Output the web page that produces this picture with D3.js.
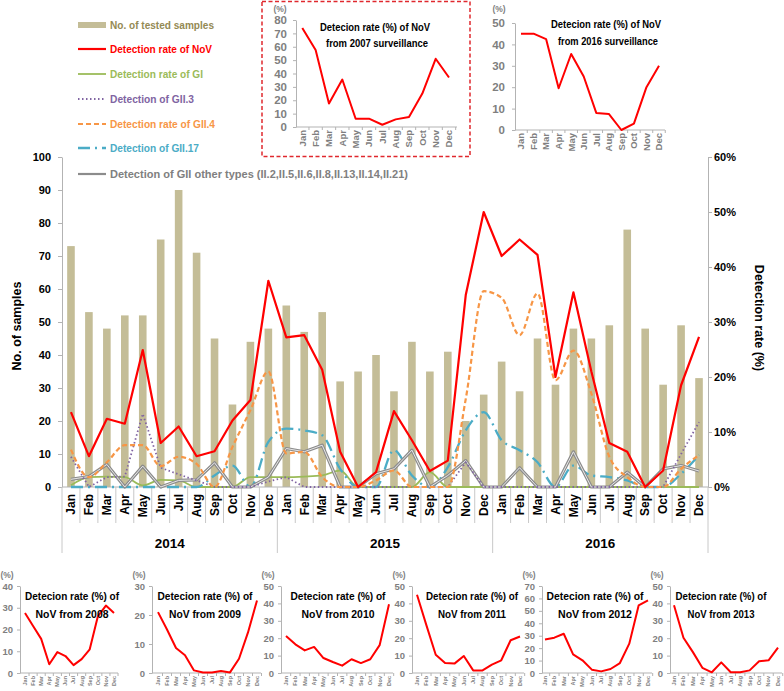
<!DOCTYPE html>
<html><head><meta charset="utf-8">
<script src="https://cdn.jsdelivr.net/npm/d3@7"></script>
<style>body{margin:0;background:#fff}svg{display:block}text{font-family:"Liberation Sans",Arial,sans-serif}</style>
</head><body><svg id="c" width="784" height="691"></svg>
<script>
// ---------- DATA ----------
const months = ["Jan","Feb","Mar","Apr","May","Jun","Jul","Aug","Sep","Oct","Nov","Dec"];
const years = ["2014","2015","2016"];
const samples = [73,53,48,52,52,75,90,71,45,25,44,48, 55,47,53,32,35,40,29,44,35,41,20,28, 38,29,45,31,48,45,49,78,48,31,49,33];
const rateNoV = [13.6,5.6,12.4,11.5,24.9,8,11,5.6,6.5,12.1,15.8,37.5, 27.2,27.6,21.3,6.4,0,2.7,13.8,8.5,2.9,4.8,34.9,50, 42,45,42.2,20,35.4,21,8,6.4,0,3,18.5,27.3];
const rateGI = [0.3,1.8,1.9,1.8,0.3,1.3,1.2,0,0,0,1.8,1.8, 1.8,1.9,2.1,3,0,0,0,0,2.7,0,0,0, 0,0,0,0,0,0,0,0,0,0,0,0];
const rateGII3 = [5.5,0,1.8,1.9,13.3,3.5,2.3,1.2,0,0,0,1.0, 1.8,0,0,0,0,0,0,0,0,0,4.5,0, 0,0,0,0,0,0,0,0,0,0,6,11.8];
const rateGII4 = [6.8,1.8,4.5,7.6,7.6,3.8,5.5,4.2,0,7.3,14,21, 6.1,6.4,1.8,0,0,1.2,3,0,0,0,16,35.6, 34.4,27.6,35.2,19.4,24.8,17,5.5,1.8,0,0,3.3,5.8];
const rateGII17 = [0,0,0,0,0,0,0,0,2.1,3.9,0,8.2, 10.6,10.3,9.4,3.3,0,0,6.7,2.1,0,3.6,10.3,13.6, 8.5,6.7,4.5,0,3.9,2.1,1.8,1.2,0,0,2.4,5.8];
const rateGIIother = [1.4,1.9,4.1,0,3.8,0,1.2,1.3,4.4,0,0,1.8, 7,6.4,7.6,0,0,2.4,3.3,6.7,0,2.1,4.8,0, 0,3.5,0,0,6.4,0,0,2.7,0,3.3,3.9,2.9];
const leftTicks = [0,10,20,30,40,50,60,70,80,90,100];
const rightTicks = [0,10,20,30,40,50,60];
const legendLabels = ["No. of tested samples","Detection rate of NoV","Detection rate of GI","Detection of GII.3","Detection rate of GII.4","Detection of GII.17","Detection of GII  other types (II.2,II.5,II.6,II.8,II.13,II.14,II.21)"];
const nov2007 = [74,57.5,17.5,35.5,6.2,6.2,1.7,5.7,7.5,25,51,37];
const nov2016 = [45,45,42.5,19.5,35.5,25,8,7.5,0,3,20,30];
const nov2008 = [27.6,21.6,15.7,4,9.6,7.8,3.6,6.4,10.9,26,31,27.6];
const nov2009 = [21,15,8.6,6.1,0.9,0.2,0.2,0.7,0.2,4.9,14,25];
const nov2010 = [21.3,16.5,13,15,8.6,6.3,4.2,7.9,5.7,7.9,16,39.5];
const nov2011 = [45,27.5,10.5,5.7,5.4,9.8,1.5,1.5,4.8,7.3,18.8,21];
const nov2012 = [27,28.4,31.6,15,10.2,2.7,1.3,3.2,8,23.6,54.4,58.4];
const nov2013 = [38.9,20.3,12,3,0.4,6.1,0.4,0.4,1.5,6.7,7.3,14.6];

// ---------- MAIN CHART ----------
const svg = d3.select("#c");
const P = {l:62, r:708, t:157, b:487};
const idx = d3.range(samples.length);
const x = d3.scaleBand().domain(idx).range([P.l, P.r]);
const bw = x.bandwidth();
const yL = d3.scaleLinear().domain([0,100]).range([P.b, P.t]);
const yR = d3.scaleLinear().domain([0,60]).range([P.b, P.t]);
const cx = i => x(i) + bw/2;
const axisCol = "#b3b3b3";

// bars
svg.append("g").selectAll("rect").data(samples).join("rect")
  .attr("x",(d,i)=>cx(i)-3.8).attr("width",7.6)
  .attr("y",d=>yL(d)).attr("height",d=>yL(0)-yL(d)).attr("fill","#c4bd97");

// axes
const gl = svg.append("g").attr("transform",`translate(${P.l},0)`)
  .call(d3.axisLeft(yL).tickValues(leftTicks).tickSize(4).tickSizeOuter(0).tickPadding(7));
const gr = svg.append("g").attr("transform",`translate(${P.r},0)`)
  .call(d3.axisRight(yR).tickValues(rightTicks).tickSize(4).tickSizeOuter(0).tickPadding(2).tickFormat(d=>d+"%"));
[gl,gr].forEach(g=>{
  g.select(".domain").attr("stroke",axisCol);
  g.selectAll(".tick line").attr("stroke",axisCol);
  g.selectAll(".tick text").attr("font-size","11px").attr("font-weight","bold").attr("fill","#000")
    .attr("font-family","Liberation Sans, Arial, sans-serif");
});

// category axis grid
const xa = svg.append("g");
xa.append("line").attr("x1",P.l).attr("x2",P.r).attr("y1",P.b).attr("y2",P.b).attr("stroke",axisCol);
d3.range(samples.length+1).forEach(i=>{
  const xx = P.l + i*bw;
  xa.append("line").attr("x1",xx).attr("x2",xx).attr("y1",P.b)
    .attr("y2", i%12===0 ? 553 : 523).attr("stroke","#c8c8c8");
});
xa.selectAll("text.m").data(idx).join("text").attr("class","m")
  .attr("transform",i=>`translate(${cx(i)+4.3},494) rotate(-90)`)
  .attr("text-anchor","end").attr("font-size","12px").attr("font-weight","bold")
  .text(i=>months[i%12]);
xa.selectAll("text.y").data(years).join("text").attr("class","y")
  .attr("x",(d,k)=>P.l + (k*12+6)*bw).attr("y",548).attr("text-anchor","middle")
  .attr("font-size","13.5px").attr("font-weight","bold").text(d=>d);

// axis titles
svg.append("text").attr("transform","translate(21,326) rotate(-90)").attr("text-anchor","middle")
  .attr("font-size","12.5px").attr("font-weight","bold").text("No. of samples");
svg.append("text").attr("transform","translate(755,318) rotate(90)").attr("text-anchor","middle")
  .attr("font-size","12.5px").attr("font-weight","bold").text("Detection rate (%)");

// lines
const lin = d3.line().x((d,i)=>cx(i)).y(d=>yR(d));
const smooth = d3.line().x((d,i)=>cx(i)).y(d=>yR(d)).curve(d3.curveMonotoneX);
const series = [
  {data:rateGI, gen:smooth, stroke:"#9bbb59", w:1.8, dash:null},
  {data:rateGII17, gen:smooth, stroke:"#4bacc6", w:2.3, dash:"12,5,2,5"},
  {data:rateGIIother, gen:lin, stroke:"#8c8c8c", w:3.2, dash:null, inner:"#e6e6e6"},
  {data:rateGII3, gen:lin, stroke:"#8064a2", w:1.8, dash:"1.5,2.5"},
  {data:rateGII4, gen:smooth, stroke:"#f79646", w:2.2, dash:"5,3"},
  {data:rateNoV, gen:lin, stroke:"#ff0000", w:2.2, dash:null}
];
series.forEach(s=>{
  svg.append("path").attr("d",s.gen(s.data)).attr("fill","none").attr("stroke",s.stroke)
    .attr("stroke-width",s.w).attr("stroke-dasharray",s.dash).attr("stroke-linejoin","round");
  if(s.inner) svg.append("path").attr("d",s.gen(s.data)).attr("fill","none").attr("stroke",s.inner).attr("stroke-width",1);
});

// legend
const lgColors = ["#948a54","#ff0000","#9bbb59","#8064a2","#f79646","#4bacc6","#808080"];
const lgY = [25,49,74,99,124,148,174];
const lgW = [104,102,93,84,105,89,298];
const lg = svg.append("g");
legendLabels.forEach((t,k)=>{
  const y = lgY[k];
  if(k===0) lg.append("rect").attr("x",78).attr("y",y-3).attr("width",28).attr("height",6).attr("fill","#c4bd97");
  else {
    const s = [null,series[5],series[0],series[3],series[4],series[1],series[2]][k];
    lg.append("line").attr("x1",78).attr("x2",106).attr("y1",y).attr("y2",y).attr("stroke",s.stroke)
      .attr("stroke-width",k===6?2.2:s.w).attr("stroke-dasharray",s.dash);
  }
  lg.append("text").attr("x",110).attr("y",y+4).attr("font-size","11.5px").attr("font-weight","bold")
    .attr("fill",lgColors[k]).attr("textLength",lgW[k]).attr("lengthAdjust","spacingAndGlyphs").text(t);
});

// ---------- INSETS ----------
function inset(o){
  const g = svg.append("g");
  const xs = d3.scalePoint().domain(months).range([o.xJan,o.xDec]);
  const ys = d3.scaleLinear().domain([0,o.max]).range([o.yB,o.yT]);
  const ya = d3.axisLeft(ys).tickValues(d3.range(0,o.max+0.1,o.step)).tickSize(3).tickSizeOuter(0).tickPadding(o.pad);
  const gy = g.append("g").attr("transform",`translate(${o.ax},0)`).call(ya);
  gy.select(".domain").attr("stroke",axisCol);
  gy.selectAll(".tick line").attr("stroke",axisCol);
  gy.selectAll(".tick text").attr("font-size",o.tf+"px").attr("font-weight","bold").attr("fill","#7f7f7f")
    .attr("font-family","Liberation Sans, Arial, sans-serif");
  g.append("line").attr("x1",o.ax).attr("x2",o.xEnd).attr("y1",o.yB).attr("y2",o.yB).attr("stroke",axisCol);
  const step = xs.step();
  months.forEach((m,k)=>{
    const xx = xs(m)+step/2;
    g.append("line").attr("x1",xx).attr("x2",xx).attr("y1",o.yB).attr("y2",o.yB+3).attr("stroke",axisCol);
  });
  g.selectAll("text.mm").data(months).join("text").attr("class","mm")
    .attr("transform",m=>`translate(${xs(m)+o.mf*0.35},${o.yB+3}) rotate(-90)`)
    .attr("text-anchor","end").attr("font-size",o.mf+"px").attr("font-weight","bold").attr("fill","#7f7f7f").text(m=>m);
  g.append("text").attr("x",o.pctX).attr("y",o.pctY).attr("text-anchor","middle").attr("font-size",o.pf+"px")
    .attr("font-weight","bold").attr("fill","#7f7f7f").text("(%)");
  g.append("path").attr("d",d3.line().x((d,k)=>xs(months[k])).y(d=>ys(d))(o.data))
    .attr("fill","none").attr("stroke","#ff0000").attr("stroke-width",o.lw).attr("stroke-linejoin","round");
  o.title.forEach((t,k)=>{
    g.append("text").attr("x",o.tx[k]).attr("y",o.ty[k]).attr("text-anchor","middle").attr("font-size",o.ttf+"px")
      .attr("font-weight","bold").attr("fill","#000").attr("textLength",o.tw[k]).attr("lengthAdjust","spacingAndGlyphs").text(t);
  });
}
// dashed frame around 2007 inset
svg.append("rect").attr("x",262).attr("y",1.5).attr("width",208).attr("height",155).attr("fill","none")
  .attr("stroke","#e0282e").attr("stroke-width",1.5).attr("stroke-dasharray","4,2.5");
inset({data:nov2007, ax:296, xJan:302.3, xDec:449, xEnd:457, yT:20, yB:127, max:80, step:10, pad:6, tf:11.5, mf:9.5, pf:8.5,
  pctX:280, pctY:12, lw:2, title:["Detecion rate (%) of NoV","from 2007 surveillance"], tx:[375,377], ty:[31,47], tw:[110,102], ttf:10});
inset({data:nov2016, ax:515, xJan:521, xDec:659, xEnd:665, yT:23, yB:130, max:50, step:10, pad:7, tf:11.5, mf:9.5, pf:8.5,
  pctX:499, pctY:12, lw:2, title:["Detecion rate (%) of NoV","from 2016 surveillance"], tx:[606,608], ty:[28,45], tw:[110,100], ttf:10});
const bottom = [
  {data:nov2008, ax:20, xJan:25, xDec:114, max:40, t:"2008", tx:72, tw:[94,73]},
  {data:nov2009, ax:152, xJan:158, xDec:257, max:30, t:"2009", tx:205, tw:[95,72]},
  {data:nov2010, ax:281, xJan:286, xDec:389, max:50, t:"2010", tx:338, tw:[95,73]},
  {data:nov2011, ax:412, xJan:417, xDec:520, max:50, t:"2011", tx:472, tw:[92,68]},
  {data:nov2012, ax:542, xJan:545, xDec:648, max:70, t:"2012", tx:595, tw:[97,74]},
  {data:nov2013, ax:670, xJan:674, xDec:778, max:50, t:"2013", tx:721, tw:[91,67]}
];
bottom.forEach(b=>{
  inset({data:b.data, ax:b.ax, xJan:b.xJan, xDec:b.xDec, xEnd:b.xDec+4, yT:586, yB:673, max:b.max, step:10, pad:4, tf:9.5, mf:5.5, pf:8.5,
    pctX:b.ax-13, pctY:578, lw:2, title:["Detecion rate (%) of","NoV from "+b.t], tx:[b.tx,b.tx], ty:[600,618], tw:b.tw, ttf:10.5});
});
</script></body></html>
